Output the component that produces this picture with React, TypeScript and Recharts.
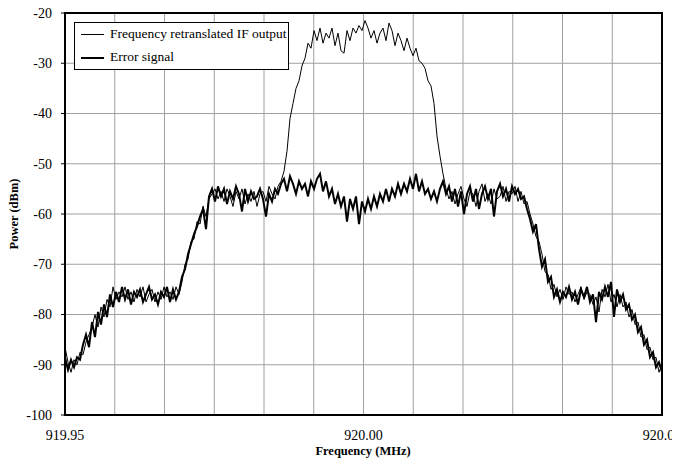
import { LineChart, Line, XAxis, YAxis, CartesianGrid, ReferenceArea } from 'recharts';

// Frequency span of the sweep (MHz)
const FREQ_START = 919.95;
const FREQ_END = 920.05;

const X_TICK_LABELS = ['919.95', '920.00', '920.05'];
const X_GRID_DIVISIONS = 12;
const Y_TICKS = [-100, -90, -80, -70, -60, -50, -40, -30, -20];

// Error signal, dBm, evenly spaced samples across the span
const ERROR_SIGNAL = [
  -88.5, -91.0, -89.0, -90.5, -88.5, -89.0, -86.0, -84.0, -86.5, -81.5,
  -84.5, -79.5, -82.0, -78.0, -80.5, -76.0, -78.5, -75.5, -77.5, -74.5,
  -77.0, -75.0, -78.0, -75.5, -76.5, -75.0, -77.5, -76.0, -74.5, -77.0,
  -76.0, -78.0, -75.5, -76.5, -74.5, -77.5, -75.0, -77.0, -75.5, -72.5,
  -71.0, -68.0, -66.0, -64.0, -62.5, -60.5, -59.0, -63.0, -56.5, -55.0,
  -57.5, -54.5, -56.5, -55.0, -58.0, -55.5, -57.0, -54.5, -56.0, -59.5,
  -55.0, -57.5, -55.5, -57.0, -56.5, -55.0, -57.0, -60.5, -56.0, -57.5,
  -55.0, -56.0, -54.0, -53.0, -55.5, -52.5, -54.0, -56.0, -53.5, -55.0,
  -54.0, -56.5, -53.5, -55.0, -53.0, -52.0, -55.5, -53.5, -56.5, -55.0,
  -58.0, -56.0, -58.5, -56.5, -61.5, -57.0, -59.0, -56.5, -62.0, -57.5,
  -59.5, -57.0, -59.0, -56.5, -58.5, -56.0, -57.5, -55.0, -57.5, -55.0,
  -56.5, -54.0, -56.0, -54.0, -55.5, -53.0, -55.0, -52.0, -55.5, -53.5,
  -56.0, -55.0, -57.0, -55.5, -57.5, -55.0, -53.5, -56.0, -54.5, -57.5,
  -55.0, -58.5, -55.5, -60.0, -56.0, -54.5, -57.5, -55.0, -59.0, -56.0,
  -54.5, -57.0, -55.0, -60.5, -55.5, -54.0, -56.5, -55.0, -57.5, -54.5,
  -56.0, -55.0, -57.0, -56.5, -59.0, -61.0, -63.5, -62.0, -67.0, -70.5,
  -69.0, -73.5, -72.5, -76.5, -75.0, -77.5, -75.5, -76.5, -74.5, -77.0,
  -75.5, -78.0, -75.0, -76.5, -74.5, -77.5, -76.0, -81.5, -75.5, -77.0,
  -74.5, -76.5, -73.5, -80.5, -75.0, -77.5, -76.0, -79.0, -78.0, -81.0,
  -80.0, -83.5, -82.5, -86.0, -85.0, -88.5, -87.5, -90.5, -89.5, -91.5,
];

// Frequency retranslated IF output, dBm
const IF_OUTPUT = [
  -86.5, -89.5, -91.5, -89.0, -90.0, -87.5, -88.0, -85.5, -84.0, -82.5,
  -80.0, -82.5, -78.5, -80.5, -77.0, -78.5, -74.5, -77.0, -75.5, -76.5,
  -74.5, -77.0, -75.5, -77.5, -75.0, -76.5, -74.5, -77.5, -76.0, -75.0,
  -77.5, -75.5, -77.0, -74.5, -76.5, -75.5, -77.0, -74.5, -76.0, -73.5,
  -70.0, -69.0, -65.5, -65.0, -61.5, -62.0, -58.5, -60.5, -57.0, -56.0,
  -55.0, -57.0, -55.5, -57.5, -55.0, -56.5, -58.5, -55.5, -57.0, -55.0,
  -58.0, -56.0, -57.5, -55.5, -58.5, -56.0, -55.5, -57.5, -54.5, -56.0,
  -57.0, -54.5, -53.5, -51.5, -47.5, -41.0, -38.0, -35.0, -33.5, -30.5,
  -29.0, -26.0, -27.0, -23.5, -25.5, -23.0, -26.0, -24.0, -25.0, -23.0,
  -26.5, -24.0, -27.5, -28.0, -23.5, -25.5, -23.0, -24.0, -22.5, -23.5,
  -21.5, -23.0, -25.0, -23.5, -26.0, -24.0, -23.0, -25.5, -22.0, -23.5,
  -26.5, -24.0, -25.5, -27.5, -25.0, -27.0, -28.5, -27.0, -29.5, -30.0,
  -31.0, -33.5, -34.5, -38.0, -44.5, -48.5, -52.0, -55.0, -57.0, -55.5,
  -58.0, -56.0, -54.5, -57.0, -58.5, -55.5, -56.0, -58.5, -55.5, -54.0,
  -57.5, -56.0, -58.0, -55.0, -57.0, -56.5, -54.5, -57.5, -55.5, -56.0,
  -54.5, -57.5, -55.5, -58.0, -57.5, -60.0, -62.0, -64.5, -65.5, -68.0,
  -71.5, -72.0, -75.0, -74.0, -76.5, -75.0, -77.0, -74.5, -76.0, -75.5,
  -77.5, -76.0, -74.5, -77.0, -75.5, -76.0, -78.0, -76.5, -79.5, -75.0,
  -76.5, -74.0, -77.5, -76.0, -78.5, -76.0, -78.5, -77.5, -80.5, -79.0,
  -82.0, -81.5, -84.5, -84.0, -87.0, -86.5, -89.0, -88.5, -91.5, -90.0,
];

const FONT = 'Liberation Serif, Tinos, Times New Roman, DejaVu Serif, serif';

const N = ERROR_SIGNAL.length;
const data = ERROR_SIGNAL.map((err, i) => ({
  freq: FREQ_START + (i * (FREQ_END - FREQ_START)) / (N - 1),
  err,
  ifOut: IF_OUTPUT[i],
}));

const xTicks = Array.from(
  { length: X_GRID_DIVISIONS + 1 },
  (_, k) => FREQ_START + (k * (FREQ_END - FREQ_START)) / X_GRID_DIVISIONS
);

const formatX = (_: number, index: number) => {
  const step = X_GRID_DIVISIONS / (X_TICK_LABELS.length - 1);
  return index % step === 0 ? X_TICK_LABELS[index / step] : '';
};

export default function App() {
  return (
    // pull the chart over the default 8px body margin (top/left) so it fills the window
    <div
      style={{
        position: 'relative',
        width: 680,
        height: 462,
        marginTop: -8,
        marginLeft: -8,
        fontFamily: FONT,
      }}
    >
      <LineChart
        width={680}
        height={462}
        data={data}
        margin={{ top: 13, right: 18, bottom: 17, left: 0 }}
        style={{ fontFamily: FONT }}
      >
        <CartesianGrid stroke="#a0a0a0" strokeWidth={1} />
        <XAxis
          dataKey="freq"
          type="number"
          domain={[FREQ_START, FREQ_END]}
          ticks={xTicks}
          tickFormatter={formatX}
          interval={0}
          height={30}
          tickSize={0}
          tickMargin={15}
          axisLine={false}
          tick={{ fill: '#000', fontSize: 14, fontFamily: FONT }}
        />
        <YAxis
          type="number"
          domain={[-100, -20]}
          ticks={Y_TICKS}
          interval={0}
          width={65}
          tickSize={4}
          tickLine={{ stroke: '#000' }}
          tickMargin={9}
          axisLine={false}
          tick={{ fill: '#000', fontSize: 14, fontFamily: FONT }}
        />
        <ReferenceArea
          x1={FREQ_START}
          x2={FREQ_END}
          y1={-100}
          y2={-20}
          fill="none"
          fillOpacity={0}
          stroke="#000"
          strokeWidth={2}
        />
        <Line
          type="linear"
          dataKey="err"
          stroke="#000"
          strokeWidth={2}
          dot={false}
          isAnimationActive={false}
        />
        <Line
          type="linear"
          dataKey="ifOut"
          stroke="#000"
          strokeWidth={1}
          dot={false}
          isAnimationActive={false}
        />
      </LineChart>

      {/* legend box */}
      <div
        style={{
          position: 'absolute',
          left: 74,
          top: 22,
          width: 213,
          height: 46,
          border: '1px solid #000',
          background: '#fff',
          fontSize: 13.5,
          color: '#000',
        }}
      >
        <div style={{ position: 'absolute', left: 6, top: 11, width: 23, height: 1, background: '#000' }} />
        <div style={{ position: 'absolute', left: 35, top: 3, whiteSpace: 'nowrap', lineHeight: '16px' }}>
          Frequency retranslated IF output
        </div>
        <div style={{ position: 'absolute', left: 6, top: 34, width: 23, height: 2, background: '#000' }} />
        <div style={{ position: 'absolute', left: 35, top: 26, whiteSpace: 'nowrap', lineHeight: '16px' }}>
          Error signal
        </div>
      </div>

      {/* axis titles */}
      <div
        style={{
          position: 'absolute',
          left: 363,
          top: 451,
          transform: 'translate(-50%, -50%)',
          fontWeight: 'bold',
          fontSize: 12.5,
          whiteSpace: 'nowrap',
        }}
      >
        Frequency (MHz)
      </div>
      <div
        style={{
          position: 'absolute',
          left: 14,
          top: 214,
          transform: 'translate(-50%, -50%) rotate(-90deg)',
          fontWeight: 'bold',
          fontSize: 12.5,
          whiteSpace: 'nowrap',
        }}
      >
        Power (dBm)
      </div>
    </div>
  );
}
